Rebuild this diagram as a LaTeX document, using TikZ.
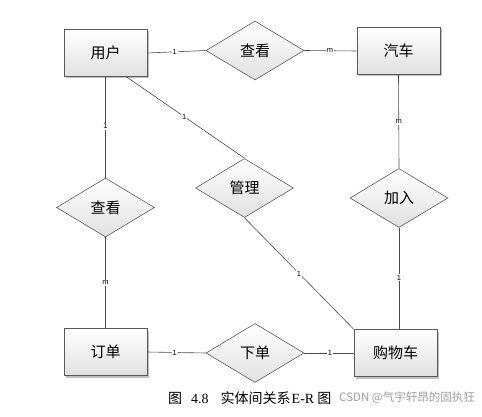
\documentclass[tikz,border=0pt]{standalone}
\usepackage{fontspec}
\setmainfont{Liberation Serif}
\newfontfamily\cjk{Noto Sans CJK SC}
\newfontfamily\lab{Liberation Sans}
\usetikzlibrary{shapes.geometric,shadows,calc}
\definecolor{edgec}{HTML}{4A4A4A}
\definecolor{boxc}{HTML}{5A5A5A}
\begin{document}
\begin{tikzpicture}[x=1pt,y=-1pt,
  entity/.style={rectangle, draw=boxc, line width=0.7pt, top color=white, bottom color=black!12,
    minimum width=83pt, minimum height=47pt, inner sep=0pt, font=\cjk\fontsize{15}{15}\selectfont,
    drop shadow={shadow xshift=2pt, shadow yshift=-2pt, opacity=0.25, fill=black}},
  rel/.style={diamond, draw=boxc, line width=0.6pt, top color=white, bottom color=black!12,
    minimum width=98pt, minimum height=59pt, inner sep=0pt, font=\cjk\fontsize{15}{15}\selectfont},
  conn/.style={draw=edgec, line width=0.6pt},
  card/.style={fill=white, inner sep=1pt, font=\lab\fontsize{7.5}{7.5}\selectfont, text=black}]
\useasboundingbox (0,0) rectangle (482,417);
\fill[white] (0,0) rectangle (482,417);

\node[entity] (user) at (105.5,53) {用户};
\node[entity] (car) at (398.5,51) {汽车};
\node[entity] (order) at (105.5,352) {订单};
\node[entity] (cart) at (395.5,353) {购物车};

\node[rel] (look1) at (255,50.5) {查看};
\node[rel] (look2) at (105.5,207.5) {查看};
\node[rel] (manage) at (244.5,188) {管理};
\node[rel] (join) at (399,198) {加入};
\node[rel] (place) at (255,353) {下单};

\coordinate (userse) at ($(user.south)!0.5!(user.south east)$);

\draw[conn] (user.east) -- node[card, pos=0.47] {1} (look1.west);
\draw[conn] (look1.east) -- node[card, pos=0.49] {m} (car.west);
\draw[conn] (user.south) -- node[card, pos=0.49] {1} (look2.north);
\draw[conn] (look2.south) -- node[card, pos=0.5] {m} (order.north);
\draw[conn] (userse) -- node[card, pos=0.49] {1} (manage.north);
\draw[conn] (manage.south) -- node[card, pos=0.5] {1} (cart.north west);
\draw[conn] (car.south) -- node[card, pos=0.5] {m} (join.north);
\draw[conn] (join.south) -- node[card, pos=0.49] {1} (join.south |- cart.north);
\draw[conn] (order.east) -- node[card, pos=0.47] {1} (place.west);
\draw[conn] (place.east) -- node[card, pos=0.52] {1} (cart.west);

\node[font=\fontsize{14}{14}\selectfont, inner sep=0pt, anchor=west] (caption) at (168,398)
  {{\cjk 图}\hspace{9pt}4.8\hspace{12pt}{\cjk 实体间关系}\hspace{1pt}E-R\hspace{3pt}{\cjk 图}};
\node[font=\cjk\fontsize{11.5}{11.5}\selectfont, text=black!38, inner sep=0pt, anchor=east] (wm) at (475,398) {CSDN @气宇轩昂的固执狂};
\end{tikzpicture}
\end{document}
